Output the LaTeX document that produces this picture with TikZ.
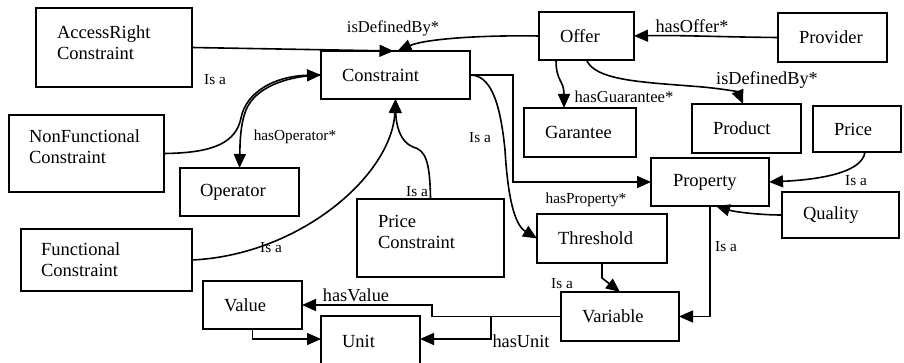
\documentclass[tikz,border=0pt]{standalone}
\usepackage{fontspec}
\setmainfont{Liberation Serif}
\usetikzlibrary{arrows.meta}
\hyphenpenalty=10000
\exhyphenpenalty=10000
\begin{document}
\begin{tikzpicture}[x=1pt,y=-1pt,
  box/.style={draw, line width=1.6pt, anchor=north west, align=left, inner ysep=0pt, inner xsep=21pt, outer sep=0pt, font=\fontsize{18.5}{21}\selectfont},
  sz/.style n args={3}{minimum width=#1pt, minimum height=#2pt, text width=#3pt},
  lblS/.style={font=\fontsize{15.3}{17}\selectfont, inner sep=0pt},
  lblM/.style={font=\fontsize{16.6}{18}\selectfont, inner sep=0pt},
  lblL/.style={font=\fontsize{18.3}{20}\selectfont, inner sep=0pt},
  link/.style={line width=1.6pt, -{Triangle[length=14pt,width=12pt]}},
  plainline/.style={line width=1.6pt}]
\useasboundingbox (0,0) rectangle (904,363);

% boxes
\node[box, sz={156}{79}{114}, text depth=31pt] (acc) at (36,8) {AccessRight\\Constraint};
\node[box, sz={149}{48}{107}] (con) at (321,51) {Constraint};
\node[box, sz={155}{77}{115}, inner xsep=20pt, text depth=35pt] (nfc) at (9,115) {NonFunctional\\Constraint};
\node[box, sz={119}{48}{79}, inner xsep=20pt] (opr) at (180,168) {Operator};
\node[box, sz={171}{62}{131}, inner xsep=20pt] (fc) at (21,229) {Functional\\Constraint};
\node[box, sz={147}{78}{105}, text depth=33pt] (pc) at (357,199) {Price\\Constraint};
\node[box, sz={99}{48}{57}] (val) at (203,281) {Value};
\node[box, sz={99}{50}{57}] (unit) at (321,316) {Unit};
\node[box, sz={95}{48}{53}] (offer) at (539,12) {Offer};
\node[box, sz={109}{49}{67}] (prov) at (778,13) {Provider};
\node[box, sz={112}{49}{70}] (gar) at (524,108) {Garantee};
\node[box, sz={109}{49}{67}] (prod) at (692,104) {Product};
\node[box, sz={88}{46}{46}] (price) at (813,106) {Price};
\node[box, sz={118}{48}{74}, inner xsep=22pt] (prop) at (651,158) {Property};
\node[box, sz={117}{46}{75}] (qual) at (782,192) {Quality};
\node[box, sz={130}{49}{88}] (thr) at (537,214) {Threshold};
\node[box, sz={118}{49}{76}] (var) at (561,292) {Variable};

% connectors
\draw[link] (acc.east) -- ([xshift=-2pt]con.north);
\draw[link] (offer.west) .. controls (480,35) and (425,39) .. ([xshift=2pt]con.north);
\draw[link] (nfc.east) .. controls (215,153) and (236,142) .. (241,118) .. controls (246,92) and (275,76) .. (con.west);
\draw[link] (con.west) .. controls (285,76) and (255,88) .. (246,110) .. controls (240,125) and (240,145) .. (opr.north);
\draw[link] (fc.east) .. controls (300,255) and (392,175) .. (con.south);
\draw[link] (pc.north) .. controls (430,160) and (425,150) .. (413,147) .. controls (400,142) and (396,125) .. (con.south);
\draw[link] (con.east) .. controls (490,75) and (500,100) .. (505,150) .. controls (508,200) and (515,225) .. (thr.west);
\draw[link] (con.east) -- ++(43,0) |- (prop.west);
\draw[link] (prov.west) .. controls (720,37) and (680,35) .. (offer.east);
\draw[link] ([xshift=-30.5pt]offer.south) .. controls (556,82) and (564,80) .. ([xshift=-16pt]gar.north);
\draw[link] (offer.south) .. controls (595,80) and (640,82) .. (690,86) .. controls (720,88) and (738,92) .. ([xshift=-3.5pt]prod.north);
\draw[link] ([xshift=8pt]price.south) .. controls (862,175) and (810,180) .. (prop.east);
\draw[link] (qual.west) .. controls (760,215) and (735,212) .. ([xshift=6pt]prop.south);
\draw[link] (prop.south) |- (var.east);
\draw[link] (thr.south) -- ++(0,15) -- (var.north);
\draw[link] (var.west) -- ++(-129,0) |- (val.east);
\draw[link] (var.west) -- ++(-70,0) |- ([yshift=2pt]unit.east);
\draw[link] (val.south) |- ([yshift=2pt]unit.west);

% labels
\node[lblS] (l1) at (215,80) {Is a};
\node[lblM] (l2) at (393,28) {isDefinedBy*};
\node[lblS] (l3) at (295,137) {hasOperator*};
\node[lblS] (l4) at (271,248) {Is a};
\node[lblS] (l5) at (417,192) {Is a};
\node[lblS] (l6) at (480,138) {Is a};
\node[lblS] (l7) at (586,200) {hasProperty*};
\node[lblL] (l8) at (692,26) {hasOffer*};
\node[lblM] (l9) at (624,97) {hasGuarantee*};
\node[lblL] (l10) at (767,80) {isDefinedBy*};
\node[lblS] (l11) at (856,181) {Is a};
\node[lblS] (l12) at (726,247) {Is a};
\node[lblS] (l13) at (562,284) {Is a};
\node[lblL] (l14) at (356,295) {hasValue};
\node[lblL] (l15) at (521,341) {hasUnit};
\end{tikzpicture}
\end{document}
